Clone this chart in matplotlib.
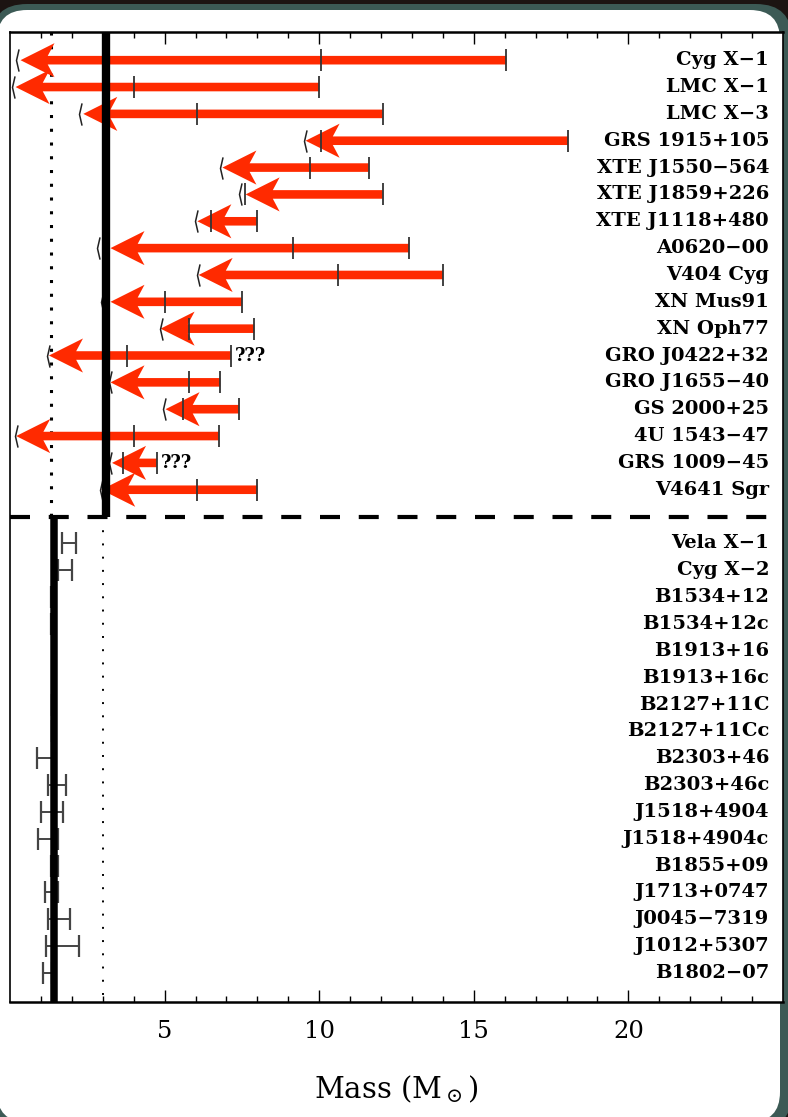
import numpy as np
import matplotlib
matplotlib.use("Agg")
import matplotlib.pyplot as plt
from matplotlib.patches import FancyBboxPatch

# black hole candidates (upper panel), masses in solar units
bh_names = ["Cyg X−1", "LMC X−1", "LMC X−3", "GRS 1915+105", "XTE J1550−564",
            "XTE J1859+226", "XTE J1118+480", "A0620−00", "V404 Cyg", "XN Mus91",
            "XN Oph77", "GRO J0422+32", "GRO J1655−40", "GS 2000+25", "4U 1543−47",
            "GRS 1009−45", "V4641 Sgr"]
bh_upper = [16.05, 10.0, 12.05, 18.05, 11.6, 12.05, 8.0, 12.9, 14.0, 7.5,
            7.9, 7.15, 6.8, 7.4, 6.75, 4.75, 8.0]
bh_mid = [10.05, 4.0, 6.05, 10.05, 9.7, 7.6, 6.5, 9.15, 10.6, 5.0,
          5.8, 3.8, 5.8, 5.6, 4.0, 3.65, 6.05]
bh_lower = [0.18, 0.07, 2.23, 9.5, 6.8, 7.4, 5.98, 2.82, 6.06, 2.93,
            4.85, 1.2, 3.2, 4.95, 0.15, 3.2, 2.9]
bh_tip = [0.34, 0.18, 2.37, 9.56, 6.87, 7.62, 6.06, 3.25, 6.1, 3.25,
          4.87, 1.26, 3.25, 5.03, 0.2, 3.3, 2.95]
bh_unsure = ["GRO J0422+32", "GRS 1009−45"]

# neutron stars (lower panel): mass ranges
ns_names = ["Vela X−1", "Cyg X−2", "B1534+12", "B1534+12c", "B1913+16",
            "B1913+16c", "B2127+11C", "B2127+11Cc", "B2303+46", "B2303+46c",
            "J1518+4904", "J1518+4904c", "B1855+09", "J1713+0747", "J0045−7319",
            "J1012+5307", "B1802−07"]
ns_low = [1.67, 1.54, 1.33, 1.33, 1.435, 1.38, 1.345, 1.355, 0.86, 1.22,
          0.99, 0.90, 1.32, 1.12, 1.22, 1.17, 1.06]
ns_high = [2.15, 2.02, 1.345, 1.345, 1.447, 1.393, 1.353, 1.37, 1.43, 1.80,
           1.70, 1.55, 1.55, 1.55, 1.93, 2.23, 1.35]

bh_limit = 3.12   # max neutron star mass line
ns_typical = 1.41
ticks_major = [5, 10, 15, 20]

RED = "#ff2a00"
plt.rcParams["font.family"] = ["DejaVu Serif"]
plt.rcParams["mathtext.fontset"] = "dejavuserif"

W, H = 788, 1117
fig = plt.figure(figsize=(W / 100, H / 100), dpi=100, facecolor="#1c1412")

# rounded screenshot panel
def px_box(x0, y0, x1, y1, r, color):
    p = FancyBboxPatch((x0 / 100, (H - y1) / 100), (x1 - x0) / 100, (y1 - y0) / 100,
                       boxstyle="round,pad=0,rounding_size=%f" % (r / 100),
                       transform=fig.dpi_scale_trans, facecolor=color,
                       edgecolor="none", zorder=-10)
    fig.add_artist(p)

px_box(-9, 4, 792, 1129, 36, "#3c5a55")
px_box(-3, 10, 780, 1122, 30, "white")

ax = fig.add_axes([10 / W, (H - 1002) / H, 773 / W, 970 / H])
y_top, y_bot, y_div = -1.05, 35.08, 17
ax.set_xlim(0, 25)
ax.set_ylim(y_bot, y_top)
ax.set_yticks([])
ax.set_xticks(ticks_major)
ax.set_xticks(np.arange(1, 25), minor=True)
ax.tick_params(axis="x", which="both", direction="in", top=True, bottom=True,
               labelsize=17.5, pad=13)
ax.tick_params(axis="x", which="major", length=8.6, width=1.0)
ax.tick_params(axis="x", which="minor", length=4.3, width=1.0)
for s in ["top", "bottom"]:
    ax.spines[s].set_linewidth(1.8)
for s in ["left", "right"]:
    ax.spines[s].set_linewidth(1.2)

bh_y = np.arange(len(bh_names))
ns_y = np.arange(len(ns_names)) + y_div + 1

# divider and reference lines
ax.axhline(y_div, color="black", lw=3, linestyle=(0, (4.8, 4.5)), zorder=6)
ax.vlines(1.34, y_top, y_div, colors="black", lw=2.2, linestyles=[(0, (1, 3.5))], zorder=2)
ax.vlines(3.02, y_div, y_bot, colors="black", lw=1.4, linestyles=[(0, (1, 5.8))], zorder=2)
ax.vlines(bh_limit, y_top, y_div, colors="black", lw=6, zorder=5)
ax.vlines(ns_typical, y_div, y_bot, colors="black", lw=5.4, zorder=5)

# black holes: red arrows towards lower limits
for i in range(len(bh_names)):
    ax.arrow(bh_upper[i], bh_y[i], bh_tip[i] - bh_upper[i], 0, width=0.32,
             head_width=1.27, head_length=1.1, overhang=0.2,
             length_includes_head=True, color=RED, lw=0, zorder=3)
ax.plot(bh_upper, bh_y, ls="none", marker="|", ms=16, mew=1.3, color="#333333", zorder=4)
ax.plot(bh_mid, bh_y, ls="none", marker="|", ms=16, mew=1.3, color="#333333", zorder=4)
chev = [(0.23, 1), (0, 0), (0.23, -1)]
ax.plot(bh_lower, bh_y, ls="none", marker=chev, ms=16, mew=1.1, mfc="none",
        mec="#222222", zorder=4)

for i, name in enumerate(bh_names):
    ax.text(24.55, bh_y[i], name, ha="right", va="center", fontsize=14, fontweight="bold")
    if name in bh_unsure:
        ax.text(bh_upper[i] + 0.12, bh_y[i], "???", ha="left", va="center",
                fontsize=13, fontweight="bold")

# neutron stars: error bars
ns_low = np.array(ns_low)
ns_high = np.array(ns_high)
ns_mid = (ns_low + ns_high) / 2
ax.errorbar(ns_mid, ns_y, xerr=(ns_high - ns_low) / 2, fmt="none", ecolor="#444444",
            elinewidth=1.4, capsize=8.2, capthick=1.6, zorder=4)
for i, name in enumerate(ns_names):
    ax.text(24.55, ns_y[i], name, ha="right", va="center", fontsize=14, fontweight="bold")

ax.set_xlabel("Mass (M$_\\odot$)", fontsize=21, labelpad=22)

fig.savefig("out.png", dpi=100)
